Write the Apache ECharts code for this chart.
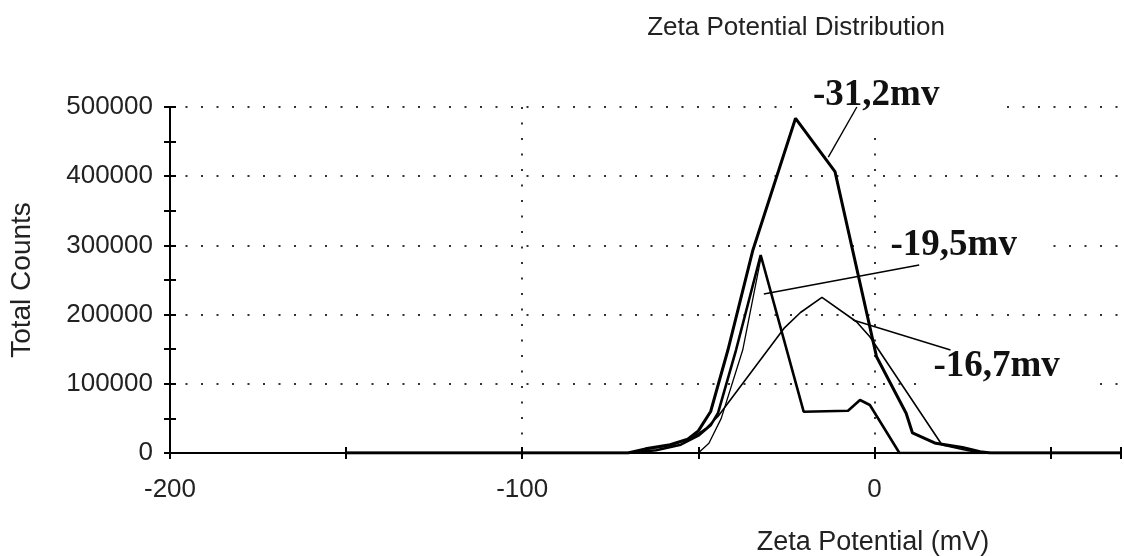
<!DOCTYPE html>
<html><head><meta charset="utf-8">
<script src="https://cdn.jsdelivr.net/npm/echarts@6/dist/echarts.min.js"></script>
<style>html,body{margin:0;padding:0;background:#fff}#c{width:1124px;height:556px}</style>
</head><body><div id="c"></div>
<script>
// ---- data ----
const xRange = [-200, 70];
const yRange = [0, 500000];
const xLabelTicks = [-200, -100, 0];
const curveA = [[-150,0],[-70,0],[-65,6000],[-58,12000],[-53,20000],[-50,32000],[-46.5,60000],[-41.6,148800],[-34.5,293400],[-22.4,483700],[-11.2,406500],[0.6,139000],[9,57400],[10.8,29000],[17.4,14000],[25,8000],[30,2000],[33,0],[70,0]];
const curveB = [[-150,0],[-70,0],[-62,4000],[-55,12000],[-50,25000],[-46.5,40000],[-44.4,58000],[-39.3,148800],[-32.3,286100],[-20.1,59700],[-7.5,61100],[-4.1,76600],[-1.3,69400],[7.1,0],[70,0]];
const curveC = [[-150,0],[-70,0],[-65,5000],[-58,11000],[-52,21000],[-48,35000],[-44.5,52500],[-25.7,180000],[-21,203000],[-14.9,225000],[-5.1,189700],[-1.3,168000],[19.2,11600],[25,5000],[30,0],[70,0]];
const curveD = [[-50,0],[-47,14000],[-43.5,50000],[-37.4,148800],[-32.3,280000]];
const annotText = ['-31,2mv', '-19,5mv', '-16,7mv'];
const annotAt = [[0.5,517000],[22.5,299600],[34.7,124700]];
const leaderFrom = [[-5.0,500000],[12.7,271700],[21.6,148800]];
const leaderTo = [[-13.1,427700],[-31.4,229800],[-6.1,192200]];

// ---- styles ----
const boxes = [[-78,-32,126,40],[-72,-16,92,18],[-72,-16,92,20]];
const dotted = {type:[2,13.5], color:'#333', width:2};
const sans = '"Liberation Sans", Arial, sans-serif';

const chart = echarts.init(document.getElementById('c'), null, {renderer:'canvas'});
function tickAxis(extra){
  return Object.assign({type:'value', axisLabel:{show:false}, splitLine:{show:false},
    axisLine:{show:false, onZero:false}}, extra);
}
const option = {
  animation:false,
  backgroundColor:'#fff',
  title:[
    {text:'Zeta Potential Distribution', left:796, top:15, padding:0, textAlign:'center',
     textStyle:{fontFamily:sans, fontSize:26, fontWeight:'normal', color:'#222'}},
    {text:'Zeta Potential (mV)', left:873, top:529, padding:0, textAlign:'center',
     textStyle:{fontFamily:sans, fontSize:27, fontWeight:'normal', color:'#222'}}
  ],
  grid:{left:164, right:0, top:107, bottom:103, containLabel:false},
  xAxis:[
    {type:'value', min:xRange[0], max:xRange[1], interval:100,
     axisLine:{show:true, onZero:false, lineStyle:{color:'#000', width:2}},
     axisTick:{show:false},
     axisLabel:{fontFamily:sans, fontSize:26, color:'#222', margin:24,
       formatter:v => xLabelTicks.indexOf(v) >= 0 ? String(v) : ''},
     splitLine:{show:true, showMaxLine:false, lineStyle:dotted}},
    tickAxis({min:xRange[0], max:xRange[1], interval:50, position:'bottom',
      axisTick:{show:true, length:6, lineStyle:{color:'#000', width:2}}}),
    tickAxis({min:xRange[0], max:xRange[1], interval:50, position:'bottom',
      axisTick:{show:true, inside:true, length:6, lineStyle:{color:'#000', width:2}}})
  ],
  yAxis:[
    {type:'value', min:yRange[0], max:yRange[1], interval:100000,
     name:'Total Counts', nameLocation:'middle', nameGap:134, nameRotate:90,
     nameTextStyle:{fontFamily:sans, fontSize:28, color:'#222'},
     axisLine:{show:true, onZero:false, lineStyle:{color:'#000', width:2}},
     axisTick:{show:false},
     axisLabel:{fontFamily:sans, fontSize:26, color:'#222', margin:17, formatter:v => String(v)},
     splitLine:{show:true, showMinLine:false, lineStyle:dotted}},
    tickAxis({min:yRange[0], max:yRange[1], interval:50000, position:'left',
      axisTick:{show:true, length:6, lineStyle:{color:'#000', width:2}}}),
    tickAxis({min:yRange[0], max:yRange[1], interval:50000, position:'left',
      axisTick:{show:true, inside:true, length:6, lineStyle:{color:'#000', width:2}}})
  ],
  series:[
    {type:'line', data:curveC, symbol:'none', lineStyle:{color:'#000', width:1.6}},
    {type:'line', data:curveD, symbol:'none', lineStyle:{color:'#000', width:1.3}},
    {type:'line', data:curveB, symbol:'none', lineStyle:{color:'#000', width:2.6}},
    {type:'line', data:curveA, symbol:'none', lineStyle:{color:'#000', width:3}}
  ]
};
chart.setOption(option);
const g = [];
const toPx = p => chart.convertToPixel({xAxisIndex:0, yAxisIndex:0}, p);
annotText.forEach((t, i) => {
  const p = toPx(annotAt[i]);
  const b = boxes[i];
  g.push({type:'rect', silent:true, z:1,
    shape:{x:p[0]+b[0], y:p[1]+b[1], width:b[2]-b[0], height:b[3]-b[1]}, style:{fill:'#fff'}});
  g.push({type:'text', silent:true, z:10, x:p[0], y:p[1],
    style:{text:t, font:'bold 37px "Liberation Serif", "Times New Roman", serif', fill:'#111', align:'center', verticalAlign:'middle'}});
  const a = toPx(leaderFrom[i]), c = toPx(leaderTo[i]);
  g.push({type:'line', silent:true, z:10, shape:{x1:a[0], y1:a[1], x2:c[0], y2:c[1]},
    style:{stroke:'#000', lineWidth:1.4}});
});
chart.setOption({graphic:g});
</script></body></html>
